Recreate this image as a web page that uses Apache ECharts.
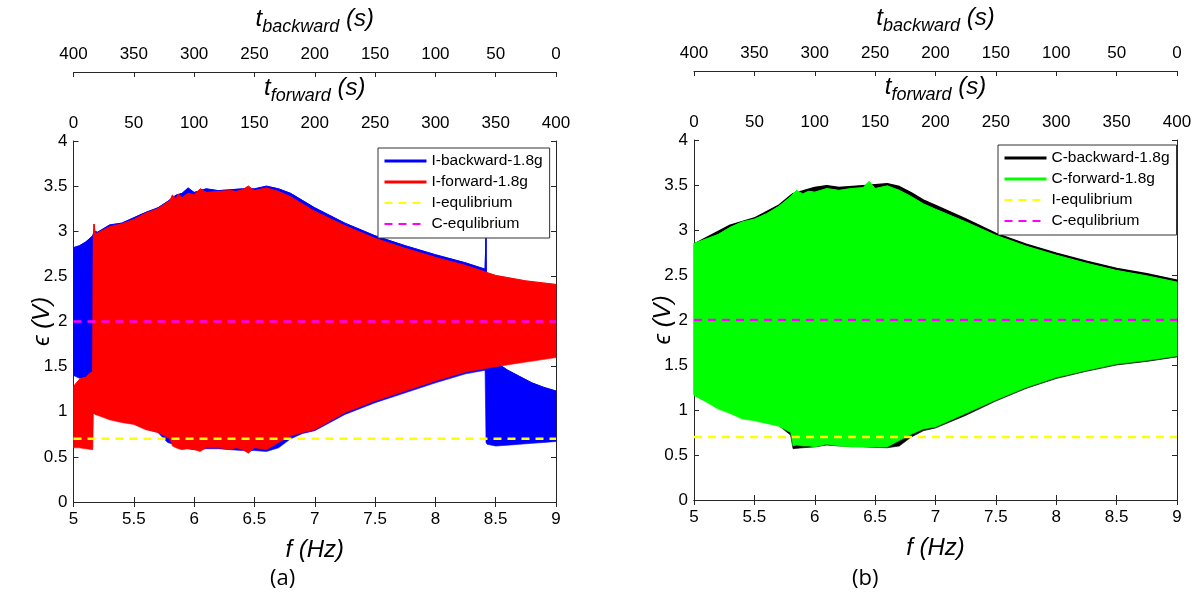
<!DOCTYPE html>
<html lang="en">
  <head>
    <meta charset="UTF-8" />
    <title>Envelope chart</title>
    <script src="https://cdn.jsdelivr.net/npm/echarts@6/dist/echarts.min.js"></script>
    <style>
      html,
      body {
        width: 100%;
        height: 100%;
        margin: 0;
        padding: 0;
        background: #fff;
      }
    </style>
  </head>
  <body>
    <div id="main" style="width: 1201px; height: 603px"></div>
    <script type="text/javascript">
      // f ticks and time ticks
      var fTicks = [5, 9, 0.5];
      var tTicks = [0, 400, 50];
      var eqI = 0.7; // I-equlibrium
      var eqC = 2.0; // C-equlibrium

      // panel (a): I-backward-1.8g envelope
      var fBlue = [5.0, 5.004, 5.05, 5.1, 5.16, 5.17, 5.2, 5.3, 5.4, 5.5, 5.6, 5.7, 5.78, 5.85, 5.9, 5.95, 6.0, 6.1, 6.2, 6.3, 6.4, 6.5, 6.6, 6.7, 6.8, 6.9, 7.0, 7.25, 7.5, 7.75, 8.0, 8.25, 8.412, 8.42, 8.428, 8.5, 8.6, 8.7, 8.8, 8.9, 9.0];
      var blueLo = [1.47, 1.4, 1.37, 1.38, 1.45, 0.98, 0.97, 0.92, 0.89, 0.87, 0.81, 0.77, 0.66, 0.63, 0.6, 0.59, 0.58, 0.59, 0.59, 0.58, 0.57, 0.57, 0.56, 0.6, 0.7, 0.76, 0.79, 0.97, 1.1, 1.21, 1.32, 1.42, 1.46, 0.66, 0.64, 0.62, 0.63, 0.64, 0.65, 0.66, 0.67];
      var blueHi = [2.55, 2.82, 2.84, 2.88, 2.95, 3.0, 2.99, 3.07, 3.09, 3.15, 3.21, 3.26, 3.33, 3.4, 3.42, 3.48, 3.43, 3.47, 3.45, 3.46, 3.47, 3.47, 3.5, 3.47, 3.42, 3.34, 3.26, 3.09, 2.95, 2.84, 2.74, 2.65, 2.58, 2.97, 1.62, 1.55, 1.46, 1.39, 1.32, 1.27, 1.23];

      // panel (a): I-forward-1.8g envelope
      var fRed = [5.0, 5.05, 5.1, 5.16, 5.165, 5.17, 5.18, 5.2, 5.3, 5.4, 5.5, 5.6, 5.7, 5.8, 5.82, 5.85, 5.87, 5.9, 5.95, 6.0, 6.05, 6.1, 6.2, 6.3, 6.35, 6.4, 6.45, 6.5, 6.6, 6.7, 6.8, 6.9, 7.0, 7.25, 7.5, 7.75, 8.0, 8.25, 8.5, 8.75, 9.0];
      var redLo = [0.6, 0.6, 0.59, 0.58, 0.97, 0.98, 0.97, 0.96, 0.91, 0.88, 0.86, 0.8, 0.77, 0.7, 0.62, 0.6, 0.59, 0.58, 0.59, 0.58, 0.56, 0.6, 0.6, 0.58, 0.6, 0.58, 0.54, 0.6, 0.58, 0.66, 0.73, 0.77, 0.8, 0.99, 1.12, 1.23, 1.34, 1.44, 1.5, 1.55, 1.6];
      var redHi = [1.28, 1.36, 1.38, 1.45, 2.95, 3.08, 2.97, 2.98, 3.05, 3.08, 3.13, 3.2, 3.25, 3.34, 3.4, 3.36, 3.41, 3.37, 3.42, 3.4, 3.47, 3.43, 3.44, 3.45, 3.44, 3.46, 3.5, 3.45, 3.48, 3.44, 3.38, 3.3, 3.22, 3.06, 2.92, 2.81, 2.71, 2.62, 2.51, 2.45, 2.41];

      // panel (b): C-backward-1.8g envelope
      var fBlack = [5.0, 5.3, 5.5, 5.7, 5.8, 5.82, 5.9, 6.0, 6.1, 6.2, 6.4, 6.6, 6.7, 6.8, 6.9, 7.0, 7.25, 7.5, 7.75, 8.0, 8.25, 8.5, 8.75, 9.0];
      var blackLo = [1.17, 0.97, 0.89, 0.83, 0.72, 0.57, 0.58, 0.59, 0.61, 0.6, 0.59, 0.58, 0.6, 0.7, 0.77, 0.8, 0.94, 1.1, 1.24, 1.35, 1.43, 1.5, 1.54, 1.59];
      var blackHi = [2.84, 3.05, 3.13, 3.27, 3.38, 3.4, 3.43, 3.47, 3.49, 3.47, 3.49, 3.51, 3.48, 3.41, 3.33, 3.27, 3.12, 2.96, 2.84, 2.74, 2.65, 2.57, 2.51, 2.44];

      // panel (b): C-forward-1.8g envelope
      var fGreen = [5.0, 5.1, 5.2, 5.3, 5.4, 5.5, 5.6, 5.7, 5.8, 5.82, 5.85, 5.9, 5.95, 6.0, 6.1, 6.2, 6.3, 6.4, 6.45, 6.5, 6.6, 6.7, 6.8, 6.9, 7.0, 7.25, 7.5, 7.75, 8.0, 8.25, 8.5, 8.75, 9.0];
      var greenLo = [1.16, 1.09, 1.01, 0.96, 0.9, 0.88, 0.85, 0.82, 0.75, 0.6, 0.61, 0.6, 0.6, 0.59, 0.62, 0.6, 0.59, 0.59, 0.59, 0.59, 0.59, 0.66, 0.73, 0.79, 0.81, 0.96, 1.11, 1.25, 1.36, 1.44, 1.51, 1.55, 1.6];
      var greenHi = [2.85, 2.9, 2.95, 3.03, 3.09, 3.12, 3.18, 3.26, 3.37, 3.4, 3.44, 3.4, 3.43, 3.42, 3.46, 3.44, 3.46, 3.47, 3.54, 3.46, 3.49, 3.44, 3.37, 3.29, 3.23, 3.09, 2.94, 2.82, 2.72, 2.63, 2.55, 2.49, 2.42];

      var axisColor = "#262626";
      var font = "Liberation Sans";
      var grids = [
        { left: 73.5, top: 141, width: 482.5, height: 361 },
        { left: 694, top: 140, width: 483, height: 360 },
      ];

      var xAxes = [];
      var yAxes = [];
      function tName(sub) {
        return "{t|t}{s|" + sub + "}{t| (s)}";
      }
      var nameRich = {
        t: { fontSize: 24, fontStyle: "italic", fontFamily: font, color: "#000" },
        s: { fontSize: 18, fontStyle: "italic", fontFamily: font, color: "#000", padding: [16, 0, 0, 0] },
      };
      var tick = { inside: true, length: 5, lineStyle: { color: axisColor } };
      var lbl = { fontSize: 17, fontFamily: font, color: "#000", margin: 9 };
      grids.forEach(function (g, p) {
        // bottom f axis
        xAxes.push({
          gridIndex: p, type: "value", position: "bottom",
          min: fTicks[0], max: fTicks[1], interval: fTicks[2],
          name: "f (Hz)", nameLocation: "middle", nameGap: 36,
          nameTextStyle: { fontSize: 24, fontStyle: "italic", fontFamily: font, color: "#000" },
          axisLine: { lineStyle: { color: axisColor } },
          axisTick: tick, axisLabel: lbl, splitLine: { show: false },
        });
        // top t_forward axis
        xAxes.push({
          gridIndex: p, type: "value", position: "top",
          min: tTicks[0], max: tTicks[1], interval: tTicks[2],
          name: tName("forward"), nameLocation: "middle", nameGap: 36,
          nameTextStyle: { rich: nameRich },
          axisLine: { lineStyle: { color: axisColor } },
          axisTick: tick, axisLabel: lbl, splitLine: { show: false },
        });
        // top t_backward axis (time runs the other way)
        xAxes.push({
          gridIndex: p, type: "value", position: "top", offset: 69, inverse: true,
          min: tTicks[0], max: tTicks[1], interval: tTicks[2],
          name: tName("backward"), nameLocation: "middle", nameGap: 36,
          nameTextStyle: { rich: nameRich },
          axisLine: { lineStyle: { color: axisColor } },
          axisTick: tick, axisLabel: lbl, splitLine: { show: false },
        });
        yAxes.push({
          gridIndex: p, type: "value", position: "left",
          min: 0, max: 4, interval: 0.5,
          name: "ϵ (V)", nameLocation: "middle", nameGap: 19, nameMoveOverlap: false,
          nameTextStyle: { fontSize: 24, fontStyle: "italic", fontFamily: font, color: "#000" },
          axisLine: { show: true, lineStyle: { color: axisColor } },
          axisTick: { show: true, inside: true, length: 5, lineStyle: { color: axisColor } },
          axisLabel: { fontSize: 17, fontFamily: font, color: "#000", margin: 6 },
          splitLine: { show: false },
        });
        yAxes.push({
          gridIndex: p, type: "value", position: "right",
          min: 0, max: 4, interval: 0.5,
          axisLine: { show: true, lineStyle: { color: axisColor } },
          axisTick: { show: true, inside: true, length: 5, lineStyle: { color: axisColor } },
          axisLabel: { show: false },
          splitLine: { show: false },
        });
      });

      // filled envelope between lo and hi, plus its upper edge as a line
      function band(name, f, lo, hi, color, p, z, lw) {
        return [
          {
            name: name + " fill", type: "custom", xAxisIndex: p * 3, yAxisIndex: p * 2,
            silent: true, z: z,
            data: f.map(function (x, i) { return [x, lo[i], hi[i]]; }),
            encode: { x: 0, y: [1, 2] },
            renderItem: function (params, api) {
              if (params.dataIndex !== 0) return;
              var pts = [];
              for (var i = 0; i < f.length; i++) pts.push(api.coord([f[i], hi[i]]));
              for (var j = f.length - 1; j >= 0; j--) pts.push(api.coord([f[j], lo[j]]));
              return {
                type: "polygon",
                shape: { points: pts },
                style: { fill: color, stroke: color, lineWidth: 0.6 },
              };
            },
          },
          {
            name: name, type: "line", xAxisIndex: p * 3, yAxisIndex: p * 2,
            symbol: "none", z: z,
            itemStyle: { color: color },
            lineStyle: { color: color, width: lw },
            data: f.map(function (x, i) { return [x, hi[i]]; }),
          },
        ];
      }
      function eqLine(name, v, color, p) {
        return {
          name: name, type: "line", xAxisIndex: p * 3, yAxisIndex: p * 2,
          symbol: "none", z: 10,
          itemStyle: { color: color },
          lineStyle: { color: color, width: 2.5, type: [8, 6] },
          data: [[fTicks[0], v], [fTicks[1], v]],
        };
      }

      var series = []
        .concat(band("I-backward-1.8g", fBlue, blueLo, blueHi, "#0000ff", 0, 2, 1))
        .concat(band("I-forward-1.8g", fRed, redLo, redHi, "#ff0000", 0, 3, 1))
        .concat([eqLine("I-equlibrium", eqI, "#ffff00", 0), eqLine("C-equlibrium", eqC, "#ff00ff", 0)])
        .concat(band("C-backward-1.8g", fBlack, blackLo, blackHi, "#000000", 1, 2, 2))
        .concat(band("C-forward-1.8g", fGreen, greenLo, greenHi, "#00ff00", 1, 3, 1))
        .concat([eqLine("I-equlibrium", eqI, "#ffff00", 1), eqLine("C-equlibrium", eqC, "#ff00ff", 1)]);

      function legendBox(names, left, top) {
        return {
          orient: "vertical", left: left, top: top,
          selectedMode: false,
          backgroundColor: "#fff", borderColor: "#333", borderWidth: 1,
          padding: [5, 7, 6, 5], itemGap: 5, itemWidth: 42, itemHeight: 16,
          itemStyle: { opacity: 0 },
          textStyle: { fontSize: 15.5, fontFamily: font, color: "#000" },
          data: names.map(function (n, i) {
            return { name: n, lineStyle: { width: i < 2 ? 3 : 2 } };
          }),
        };
      }

      var myChart = echarts.init(document.getElementById("main"));
      myChart.setOption({
        animation: false,
        backgroundColor: "#fff",
        grid: grids,
        xAxis: xAxes,
        yAxis: yAxes,
        legend: [
          legendBox(["I-backward-1.8g", "I-forward-1.8g", "I-equlibrium", "C-equlibrium"], 378, 148),
          legendBox(["C-backward-1.8g", "C-forward-1.8g", "I-equlibrium", "C-equlibrium"], 998, 145),
        ],
        graphic: [
          { type: "text", left: 270, top: 568, style: { text: "(a)", fontSize: 22, fontFamily: "Open Sans", fill: "#000" } },
          { type: "text", left: 852, top: 568, style: { text: "(b)", fontSize: 22, fontFamily: "Open Sans", fill: "#000" } },
        ],
        series: series,
      });
    </script>
  </body>
</html>
